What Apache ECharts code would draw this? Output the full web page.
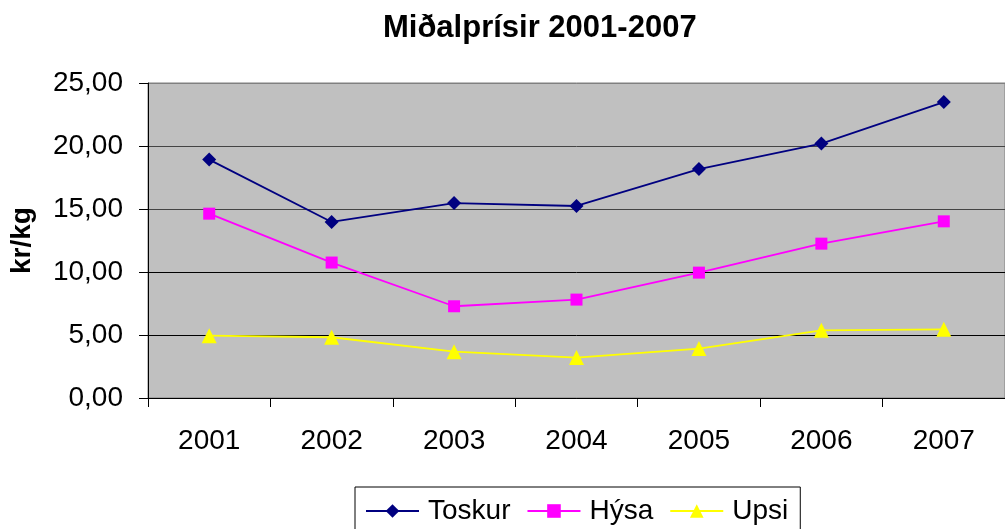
<!DOCTYPE html>
<html>
<head>
<meta charset="utf-8">
<script src="https://cdn.jsdelivr.net/npm/echarts@6/dist/echarts.min.js"></script>
<style>html,body{margin:0;padding:0;background:#fff}#c{width:1005px;height:529px}</style>
</head>
<body>
<div id="c"></div>
<script>
var titleText = 'Miðalprísir 2001-2007';
var yAxisName = 'kr/kg';
var categories = ['2001', '2002', '2003', '2004', '2005', '2006', '2007'];
var toskur = [18.92, 13.97, 15.47, 15.24, 18.17, 20.19, 23.49];
var hysa = [14.63, 10.75, 7.28, 7.81, 9.95, 12.25, 14.02];
var upsi = [4.95, 4.82, 3.68, 3.21, 3.92, 5.37, 5.45];
var seriesNames = ['Toskur', 'Hýsa', 'Upsi'];

var font = '"Liberation Sans", Arial, sans-serif';
var chart = echarts.init(document.getElementById('c'), null, {renderer: 'canvas'});
function mk(name, data, color, symbol, size) {
  return {
    name: name, type: 'line', data: data,
    symbol: symbol, symbolSize: size, showSymbol: true,
    lineStyle: {color: color, width: 1.8},
    itemStyle: {color: color},
    emphasis: {disabled: true},
    animation: false
  };
}
chart.setOption({
  animation: false,
  backgroundColor: '#ffffff',
  title: {
    text: titleText, left: 378, top: 8,
    textStyle: {fontFamily: font, fontSize: 31, fontWeight: 'bold', color: '#000'}
  },
  legend: {
    left: 355, top: 487,
    padding: [10, 12, 10, 10],
    borderColor: '#000', borderWidth: 1,
    itemWidth: 53, itemHeight: 17, itemGap: 16,
    textStyle: {fontFamily: font, fontSize: 28, color: '#000', padding: [0, 0, 0, 4]},
    data: seriesNames
  },
  grid: {
    left: 147, top: 83, width: 863, height: 315,
    show: true, backgroundColor: '#c0c0c0', borderColor: '#808080', borderWidth: 1
  },
  xAxis: {
    type: 'category', data: categories, boundaryGap: true,
    axisLine: {lineStyle: {color: '#000', width: 1}},
    axisTick: {show: true, interval: 0, length: 9, lineStyle: {color: '#000'}},
    axisLabel: {interval: 0, margin: 29, fontFamily: font, fontSize: 28, color: '#000'},
    splitLine: {show: false}
  },
  yAxis: {
    type: 'value', min: 0, max: 25, interval: 5,
    name: yAxisName, nameLocation: 'middle', nameRotate: 90, nameGap: 112,
    nameTextStyle: {fontFamily: font, fontSize: 28, fontWeight: 'bold', color: '#000'},
    axisLine: {show: true, lineStyle: {color: '#000', width: 1}},
    axisTick: {show: true, length: 9, lineStyle: {color: '#000'}},
    axisLabel: {
      margin: 25, fontFamily: font, fontSize: 28, color: '#000',
      formatter: function (v) { return v.toFixed(2).replace('.', ','); }
    },
    splitLine: {show: true, lineStyle: {color: ['#000', '#000', '#000', '#444', '#444', '#808080'], width: 1}}
  },
  series: [
    mk(seriesNames[0], toskur, '#000080', 'diamond', 14),
    mk(seriesNames[1], hysa, '#ff00ff', 'rect', 12),
    mk(seriesNames[2], upsi, '#ffff00', 'triangle', 15)
  ]
});
</script>
</body>
</html>
